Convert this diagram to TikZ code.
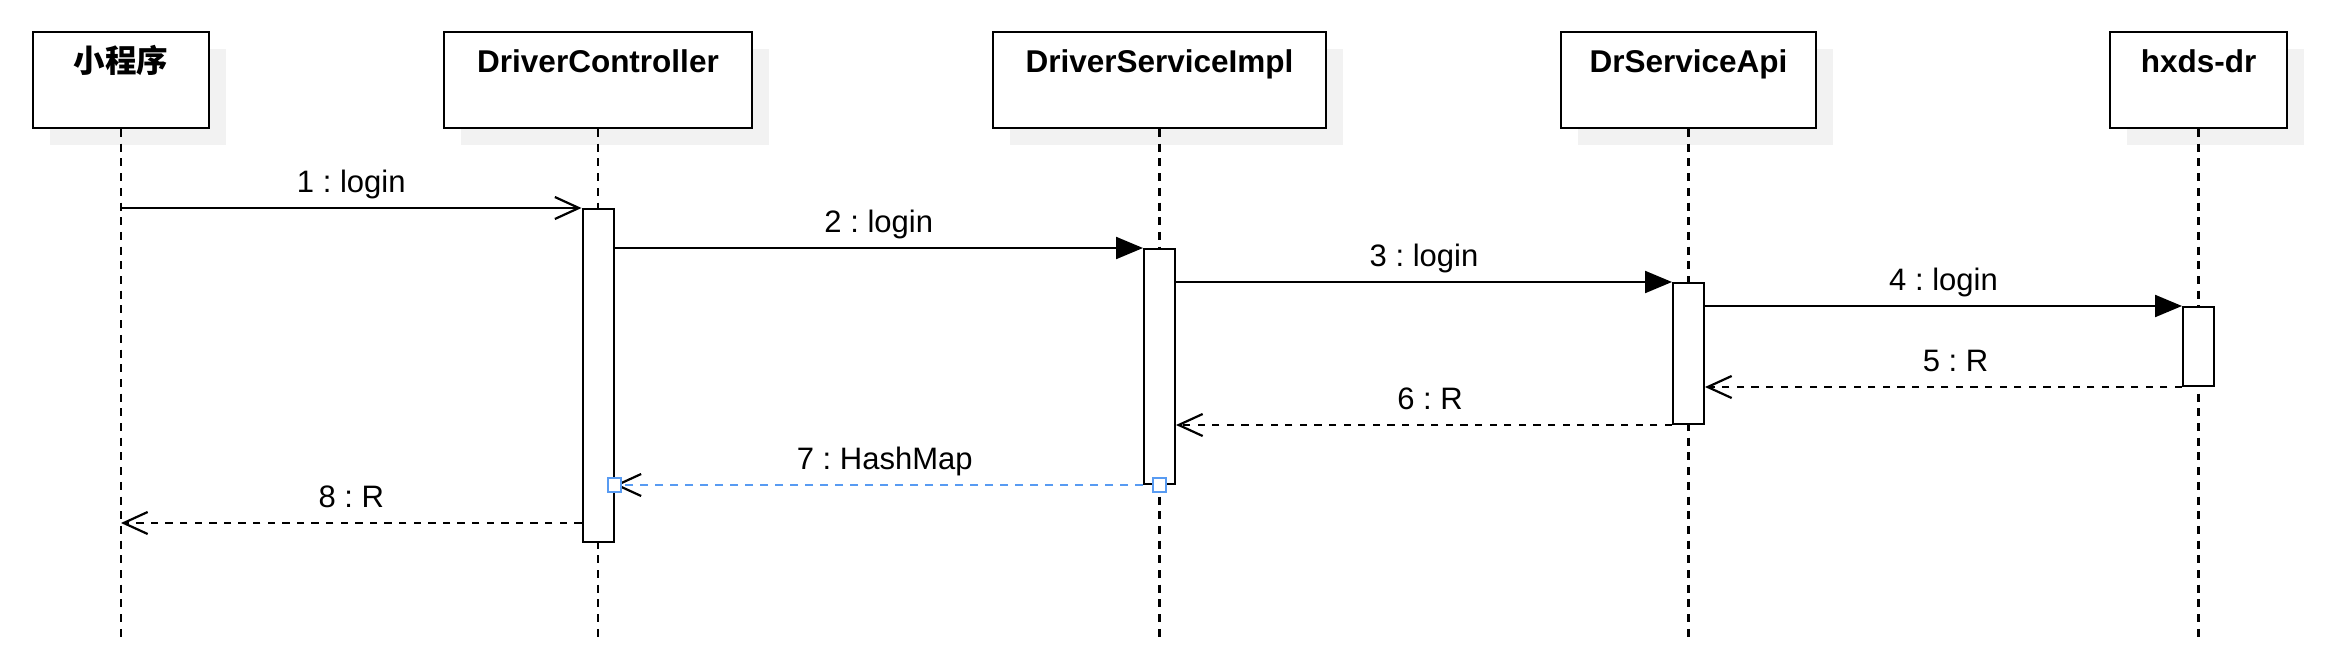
\documentclass[tikz,border=0pt]{standalone}
\usepackage{fontspec}
\setmainfont{Liberation Sans}
\newfontfamily\cjk{Noto Sans CJK SC}
\usepackage{xcolor}
\usepackage{tikz}
\usetikzlibrary{arrows.meta}
\usetikzlibrary{shadows}
\usetikzlibrary{positioning}
\definecolor{shadowgray}{RGB}{242,242,242}
\definecolor{selblue}{RGB}{88,155,242}
\frenchspacing

\begin{document}
\begin{tikzpicture}[x=1pt,y=-1pt,font=\fontsize{31}{36}\selectfont,
  actor/.style={draw,line width=2pt,fill=white,minimum height=96pt,inner sep=0pt,
    drop shadow={shadow xshift=17pt,shadow yshift=-17pt,fill=shadowgray,opacity=1}},
  headtext/.style={anchor=base,font=\fontsize{31.5}{36}\selectfont\bfseries},
  bar/.style={draw,line width=2pt,fill=white,minimum width=31pt,inner sep=0pt},
  life/.style={line width=2.4pt,dash pattern=on 8pt off 6.7pt},
  callmsg/.style={line width=2.2pt,-{Triangle[length=27pt,width=22pt]}},
  openmsg/.style={line width=2.2pt,-{Straight Barb[length=24pt,width=22pt]}},
  retmsg/.style={line width=2.2pt,dash pattern=on 7.3pt off 7.3pt,-{Straight Barb[length=24pt,width=22pt]}},
  msg/.style={anchor=base,yshift=16pt},
  handle/.style={draw=selblue,fill=white,line width=1.7pt,minimum size=13.5pt,inner sep=0pt}]
\useasboundingbox (0,0) rectangle (2334,661);
% participants
\node[actor,minimum width=176pt] (app) at (121,80) {};
\node[actor,minimum width=308pt] (ctrl) at (598,80) {};
\node[actor,minimum width=333pt] (impl) at (1159.5,80) {};
\node[actor,minimum width=255pt] (api) at (1688.5,80) {};
\node[actor,minimum width=177pt] (dr) at (2198.5,80) {};
% names
\node[headtext] (appname) at ([yshift=-42pt]app.north) {\cjk 小程序};
\node[headtext] (ctrlname) at ([yshift=-42pt]ctrl.north) {DriverController};
\node[headtext] (implname) at ([yshift=-42pt]impl.north) {DriverServiceImpl};
\node[headtext] (apiname) at ([yshift=-42pt]api.north) {DrServiceApi};
\node[headtext] (drname) at ([yshift=-42pt]dr.north) {hxds-dr};
% lifelines
\coordinate (bottom) at (0,638);
\foreach \p in {app,ctrl,impl,api,dr}
  \draw[life] (\p.south) -- (\p.south |- bottom);
% activations
\node[bar,minimum height=333pt] (ctrlbar) at (598,375.5) {};
\node[bar,minimum height=235pt] (implbar) at (1159.5,366.5) {};
\node[bar,minimum height=141pt] (apibar) at (1688.5,353.5) {};
\node[bar,minimum height=79pt] (drbar) at (2198.5,346.5) {};
% calls
\draw[openmsg] (app.south |- ctrlbar.north) -- node[msg] (l1) {1 : login} (ctrlbar.north west);
\draw[callmsg] (ctrlbar.east |- implbar.north) -- node[msg] (l2) {2 : login} (implbar.north west);
\draw[callmsg] (implbar.east |- apibar.north) -- node[msg] (l3) {3 : login} (apibar.north west);
\draw[callmsg] (apibar.east |- drbar.north) -- node[msg] (l4) {4 : login} (drbar.north west);
% returns
\draw[retmsg] (drbar.south west) -- node[msg,xshift=12pt] (l5) {5 : R} (apibar.east |- drbar.south);
\draw[retmsg] (apibar.south west) -- node[msg,xshift=6pt] (l6) {6 : R} (implbar.east |- apibar.south);
\draw[retmsg,draw=selblue,line width=2.8pt,dash pattern=on 8pt off 7pt,
  -{Straight Barb[length=24pt,width=22pt,line width=2.2pt,color=black]}]
  (implbar.south west) -- node[msg,xshift=6pt] (l7) {7 : HashMap} (ctrlbar.east |- implbar.south);
\coordinate (r8) at (0,523);
\draw[retmsg] (ctrlbar.west |- r8) -- node[msg] (l8) {8 : R} (app.south |- r8);
% selection handles
\node[handle] (h1) at (ctrlbar.east |- implbar.south) {};
\node[handle] (h2) at (implbar.south) {};
\end{tikzpicture}
\end{document}
